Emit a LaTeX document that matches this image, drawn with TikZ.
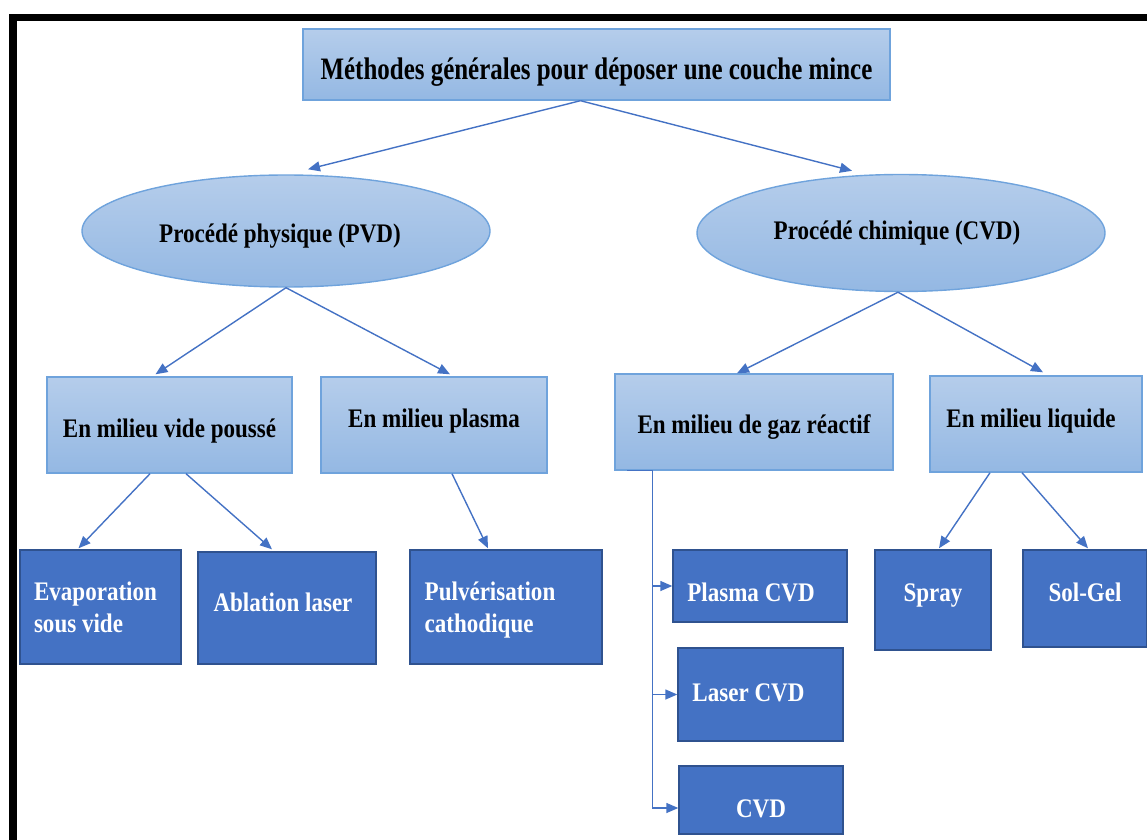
\documentclass[tikz,border=0pt]{standalone}
\usepackage{fontspec}
\setmainfont{Liberation Serif}[FakeStretch=0.86]
\newfontfamily\titlefont{Liberation Serif}[FakeStretch=0.80]
\usetikzlibrary{arrows.meta, calc, shapes.geometric}
\definecolor{lbtop}{HTML}{B5CDEB}
\definecolor{lbbot}{HTML}{94B8E3}
\definecolor{lbline}{HTML}{6FA3DC}
\definecolor{dkblue}{HTML}{4472C4}
\definecolor{dkline}{HTML}{2F528F}
% move a label inside its box without changing the box
\newcommand{\nudge}[3]{\raisebox{#2}[\height][\depth]{\hspace*{#1}#3\hspace*{-#1}}}

\begin{document}
\begin{tikzpicture}[x=0.5pt, y=-0.5pt,
  boxfont/.style={font=\fontsize{13.4}{16}\selectfont\bfseries},
  lightbox/.style={rectangle, draw=lbline, line width=0.7pt, top color=lbtop, bottom color=lbbot, boxfont, inner sep=0pt, align=center},
  lightoval/.style={ellipse, draw=lbline, line width=0.7pt, top color=lbtop, bottom color=lbbot, boxfont, inner sep=0pt},
  darkbox/.style={rectangle, draw=dkline, line width=0.7pt, fill=dkblue, text=white, boxfont, inner sep=0pt, align=left},
  link/.style={draw=dkblue, line width=0.7pt, -{Triangle[length=6pt, width=5pt]}}]

\useasboundingbox (0,0) rectangle (1147,840);

% Frame (top and left edges)
\fill[black] (9,14) rectangle (1147,21);
\fill[black] (9,14) rectangle (17,840);

% ============================================================
% Level 0 and 1
% ============================================================
\node[lightbox, minimum width=293.5pt, minimum height=35.5pt, font=\titlefont\fontsize{15.6}{18}\selectfont\bfseries] (top) at (596.5,64.5) {\nudge{0pt}{-4pt}{Méthodes générales pour déposer une couche mince}};

\node[lightoval, minimum width=204pt, minimum height=56pt] (pvd) at (286,231) {\nudge{-3pt}{-2.5pt}{Procédé physique (PVD)}};
\node[lightoval, minimum width=204pt, minimum height=58.5pt] (cvd) at (901,233) {\nudge{-2pt}{0pt}{Procédé chimique (CVD)}};

% ============================================================
% Level 2
% ============================================================
\node[lightbox, minimum width=122.5pt, minimum height=48pt] (vide) at (169.5,425) {\nudge{0pt}{-3pt}{En milieu vide poussé}};
\node[lightbox, minimum width=113pt, minimum height=48pt] (plasma) at (434,425) {\nudge{0pt}{2pt}{En milieu plasma}};
\node[lightbox, minimum width=139pt, minimum height=48pt] (gaz) at (754,422) {\nudge{0pt}{-2.5pt}{En milieu de gaz réactif}};
\node[lightbox, minimum width=106pt, minimum height=48pt] (liquide) at (1036,424) {\nudge{-2.5pt}{1.5pt}{En milieu liquide}};

% ============================================================
% Level 3
% ============================================================
\node[darkbox, minimum width=80.5pt, minimum height=57pt] (evap) at (100.5,607) {\nudge{-2.5pt}{0pt}{Evaporation}\\\nudge{-2.5pt}{0pt}{sous vide}};
\node[darkbox, minimum width=89pt, minimum height=56pt] (abl) at (287,608) {\nudge{-2pt}{3pt}{Ablation laser}};
\node[darkbox, minimum width=96pt, minimum height=57pt] (pulv) at (506,607) {\nudge{-8pt}{-1.5pt}{Pulvérisation}\\\nudge{-8pt}{-1.5pt}{cathodique}};
\node[darkbox, minimum width=87pt, minimum height=36pt] (pcvd) at (760,586) {\nudge{-4.5pt}{-3pt}{Plasma CVD}};
\node[darkbox, minimum width=82.5pt, minimum height=46.5pt] (lcvd) at (760.5,694.5) {\nudge{-6pt}{1pt}{Laser CVD}};
\node[darkbox, minimum width=82pt, minimum height=34pt] (ccvd) at (761,800) {\nudge{0pt}{-4.5pt}{CVD}};
\node[darkbox, minimum width=58pt, minimum height=50pt] (spray) at (933,600) {\nudge{0pt}{2pt}{Spray}};
\node[darkbox, minimum width=62pt, minimum height=48.5pt] (solgel) at (1085,598.5) {\nudge{0pt}{3pt}{Sol-Gel}};

% ============================================================
% Connectors
% ============================================================
\draw[link] ($(top.south)+(-16,0)$) -- ($(pvd.north)+(22,-5)$);
\draw[link] ($(top.south)+(-16,0)$) -- ($(cvd.north)+(-49,-3)$);

\draw[link] (pvd.south) -- ($(vide.north)+(-14,-2)$);
\draw[link] (pvd.south) -- ($(plasma.north)+(16,-2)$);
\draw[link] ($(cvd.south)+(-3,0)$) -- ($(gaz.north)+(-17,0)$);
\draw[link] ($(cvd.south)+(-3,0)$) -- ($(liquide.north)+(7,-3)$);

\draw[link] ($(vide.south)+(-19.5,0)$) -- ($(evap.north)+(-22,-1)$);
\draw[link] ($(vide.south)+(16.5,0)$) -- ($(abl.north)+(-15,-2)$);
\draw[link] ($(plasma.south)+(18,0)$) -- ($(pulv.north)+(-18,-1)$);

% reactive gas branch
\draw[link] ($(gaz.south west)+(13,0)$) -- ++(25,0) |- (pcvd.west);
\draw[link] ($(gaz.south west)+(38,0)$) |- (lcvd.west);
\draw[link] ($(gaz.south west)+(38,0)$) |- ($(ccvd.west)+(0,8)$);

\draw[link] ($(liquide.south)+(-46,0)$) -- ($(spray.north)+(6,-1)$);
\draw[link] ($(liquide.south)+(-14,0)$) -- ($(solgel.north)+(3,-1)$);

\end{tikzpicture}
\end{document}
